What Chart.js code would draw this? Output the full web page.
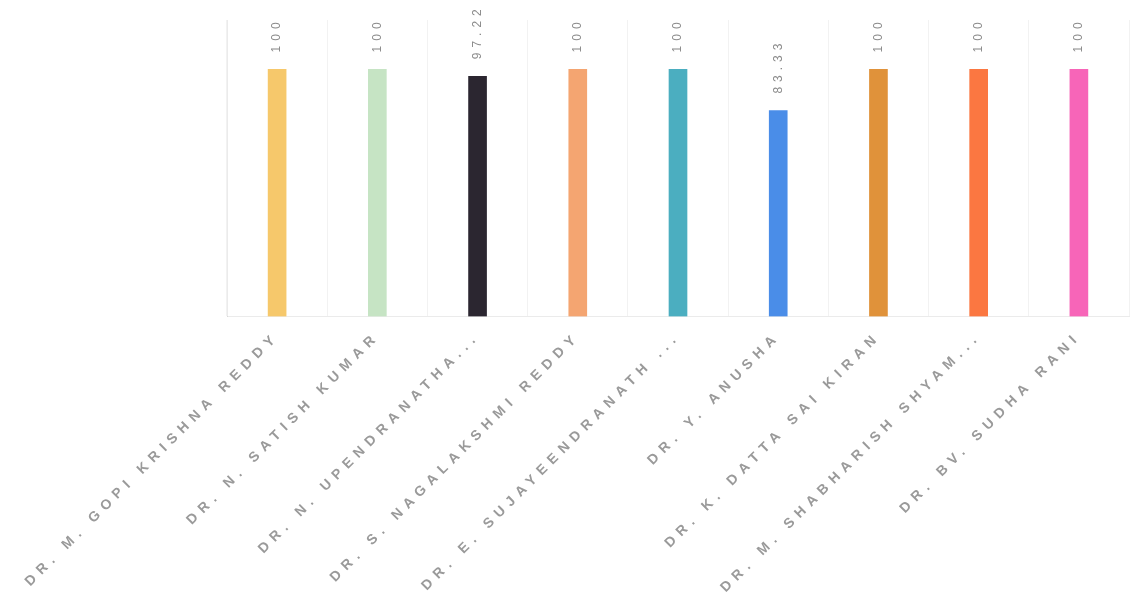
<!DOCTYPE html>
<html>
<head>
<meta charset="utf-8">
<script src="https://cdn.jsdelivr.net/npm/chart.js@4.4.1/dist/chart.umd.min.js"></script>
<style>
html,body{margin:0;padding:0;background:#fff;}
#wrap{position:relative;width:1145px;height:612px;}
</style>
</head>
<body>
<div id="wrap"><canvas id="c" width="1145" height="612"></canvas></div>
<script>
const categories = [
  "DR. M. GOPI KRISHNA REDDY",
  "DR. N. SATISH KUMAR",
  "DR. N. UPENDRANATHA...",
  "DR. S. NAGALAKSHMI REDDY",
  "DR. E. SUJAYEENDRANATH ...",
  "DR. Y. ANUSHA",
  "DR. K. DATTA SAI KIRAN",
  "DR. M. SHABHARISH SHYAM...",
  "DR. BV. SUDHA RANI"
];
const values = [100, 100, 97.22, 100, 100, 83.33, 100, 100, 100];
const valueLabels = ["100", "100", "97.22", "100", "100", "83.33", "100", "100", "100"];
const barColors = ["#F6C86B", "#C6E4C4", "#2B2630", "#F4A571", "#4BAEC0", "#4A8DE8", "#E0923A", "#FB7741", "#F765B8"];

const spacingPlugin = {
  id: 'spacing',
  beforeLayout(chart) { chart.ctx.letterSpacing = '6px'; },
  beforeDraw(chart) { chart.ctx.letterSpacing = '6px'; }
};

const labelPlugin = {
  id: 'valueLabels',
  afterDatasetsDraw(chart) {
    const ctx = chart.ctx;
    const meta = chart.getDatasetMeta(0);
    ctx.save();
    ctx.letterSpacing = '5px';
    ctx.font = '12px "Liberation Sans", Arial, sans-serif';
    ctx.fillStyle = '#8c8c8c';
    ctx.textAlign = 'left';
    ctx.textBaseline = 'middle';
    meta.data.forEach((bar, i) => {
      ctx.save();
      ctx.translate(bar.x, bar.y - 17);
      ctx.rotate(-Math.PI / 2);
      ctx.fillText(valueLabels[i], 0, 0);
      ctx.restore();
    });
    ctx.restore();
  }
};

Chart.defaults.font.family = '"Liberation Sans", Arial, sans-serif';
Chart.defaults.color = '#8f8f8f';

new Chart(document.getElementById('c'), {
  type: 'bar',
  data: {
    labels: categories,
    datasets: [{
      data: values,
      backgroundColor: barColors,
      borderWidth: 0,
      barThickness: 18
    }]
  },
  options: {
    responsive: false,
    animation: false,
    layout: { padding: { top: 20, right: 16, left: 219, bottom: 0 } },
    plugins: { legend: { display: false }, tooltip: { enabled: false } },
    scales: {
      x: {
        offset: true,
        grid: { display: true, color: 'rgba(0,0,0,0.05)', offset: true, drawTicks: false },
        border: { display: true, color: 'rgba(0,0,0,0.08)' },
        ticks: { maxRotation: 45, minRotation: 45, autoSkip: false, padding: 12,
                 font: { size: 14, weight: 'bold' }, color: '#9a9a9a' },
        afterFit(scale) { scale.height += 4; }
      },
      y: {
        min: 0, max: 120,
        grid: { display: false },
        border: { display: true, color: 'rgba(0,0,0,0.08)' },
        ticks: { display: false }
      }
    }
  },
  plugins: [spacingPlugin, labelPlugin]
});
</script>
</body>
</html>
